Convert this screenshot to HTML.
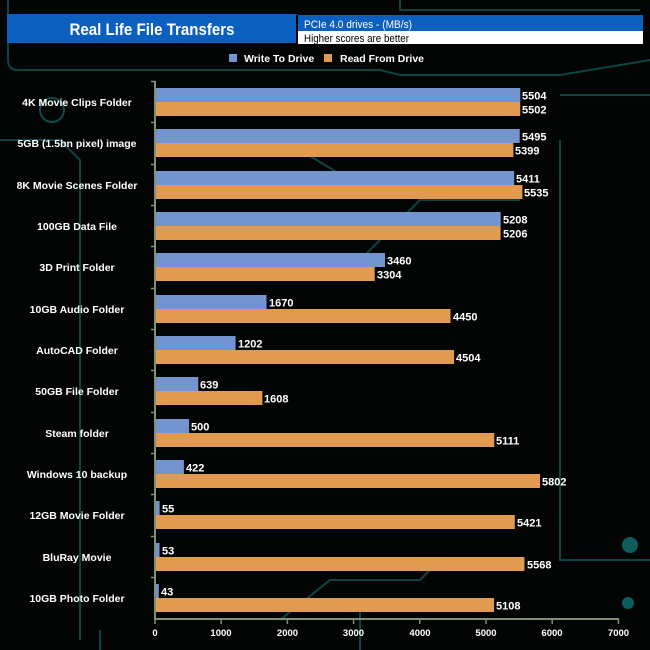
<!DOCTYPE html>
<html><head><meta charset="utf-8"><style>
body{margin:0;background:#000;}
svg{display:block;font-family:"Liberation Sans",Arial,sans-serif;}
</style></head><body>
<svg width="650" height="650" viewBox="0 0 650 650" xmlns="http://www.w3.org/2000/svg">
<rect width="650" height="650" fill="#030505"/>
<g stroke="#0f4a4a" stroke-width="2" fill="none" opacity="0.9">
<path d="M8 0 V60 Q8 70 18 70 H380 L400 75 H560 L650 60"/>
<path d="M400 0 V10 H640"/>
<path d="M0 140 H60 L80 160 V640"/>
<path d="M560 95 H650"/>
<path d="M560 140 V560 H650"/>
<path d="M280 620 L330 580 H420 L440 560"/>
<path d="M360 260 L420 200 H520"/>
<path d="M300 150 L350 180 H420"/>
<path d="M100 630 V650 M360 610 V650"/>
<path d="M420 560 H470 L480 570 H500"/>
</g>
<circle cx="630" cy="545" r="8" fill="#0f5c5c"/>
<circle cx="628" cy="603" r="6" fill="#0f5c5c"/>
<circle cx="52" cy="110" r="12" fill="none" stroke="#0f4a4a" stroke-width="2"/>
<rect x="7" y="14" width="290" height="29" fill="#0a5fbf"/>
<text x="152" y="35" text-anchor="middle" fill="#fff" font-size="17" font-weight="bold" textLength="165" lengthAdjust="spacingAndGlyphs">Real Life File Transfers</text>
<rect x="297" y="15" width="346" height="16" fill="#0a5fbf"/>
<rect x="297" y="31" width="346" height="13" fill="#fff"/>
<rect x="296" y="15" width="2" height="29" fill="#000"/>
<text x="304" y="28" fill="#fff" font-size="11" textLength="108" lengthAdjust="spacingAndGlyphs">PCIe 4.0 drives - (MB/s)</text>
<text x="304" y="42" fill="#000" font-size="11" textLength="105" lengthAdjust="spacingAndGlyphs">Higher scores are better</text>
<rect x="229" y="54" width="8" height="8" fill="#7394cf"/>
<text x="244" y="62" fill="#fff" font-size="10.5" font-weight="bold">Write To  Drive</text>
<rect x="324" y="54" width="8" height="8" fill="#e29a50"/>
<text x="340" y="62" fill="#fff" font-size="10.5" font-weight="bold">Read From  Drive</text>
<g stroke="#7f8f78" stroke-width="2">
<line x1="155" y1="81" x2="155" y2="620"/>
<line x1="154" y1="619" x2="619" y2="619"/>
</g>
<g stroke="#7f8f78" stroke-width="1.5">
<line x1="151" y1="81.5" x2="155" y2="81.5"/><line x1="151" y1="122.5" x2="155" y2="122.5"/><line x1="151" y1="164.5" x2="155" y2="164.5"/><line x1="151" y1="205.5" x2="155" y2="205.5"/><line x1="151" y1="246.5" x2="155" y2="246.5"/><line x1="151" y1="288.5" x2="155" y2="288.5"/><line x1="151" y1="329.5" x2="155" y2="329.5"/><line x1="151" y1="370.5" x2="155" y2="370.5"/><line x1="151" y1="412.5" x2="155" y2="412.5"/><line x1="151" y1="453.5" x2="155" y2="453.5"/><line x1="151" y1="494.5" x2="155" y2="494.5"/><line x1="151" y1="536.5" x2="155" y2="536.5"/><line x1="151" y1="577.5" x2="155" y2="577.5"/>
<line x1="155" y1="619" x2="155" y2="624"/><line x1="221.2" y1="619" x2="221.2" y2="624"/><line x1="287.4" y1="619" x2="287.4" y2="624"/><line x1="353.6" y1="619" x2="353.6" y2="624"/><line x1="419.8" y1="619" x2="419.8" y2="624"/><line x1="486" y1="619" x2="486" y2="624"/><line x1="552.2" y1="619" x2="552.2" y2="624"/><line x1="618.4" y1="619" x2="618.4" y2="624"/>
</g>
<g fill="#7394cf">
<rect x="156" y="88" width="364.3" height="14"/>
<rect x="156" y="129" width="363.7" height="14"/>
<rect x="156" y="171" width="358.2" height="14"/>
<rect x="156" y="212" width="344.7" height="14"/>
<rect x="156" y="253" width="229.0" height="14"/>
<rect x="156" y="295" width="110.5" height="14"/>
<rect x="156" y="336" width="79.6" height="14"/>
<rect x="156" y="377" width="42.3" height="14"/>
<rect x="156" y="419" width="33.1" height="14"/>
<rect x="156" y="460" width="27.9" height="14"/>
<rect x="156" y="501" width="3.6" height="14"/>
<rect x="156" y="543" width="3.5" height="14"/>
<rect x="156" y="584" width="2.8" height="14"/>
</g>
<g fill="#e29a50">
<rect x="156" y="102" width="364.2" height="14"/>
<rect x="156" y="143" width="357.4" height="14"/>
<rect x="156" y="185" width="366.4" height="14"/>
<rect x="156" y="226" width="344.6" height="14"/>
<rect x="156" y="267" width="218.7" height="14"/>
<rect x="156" y="309" width="294.5" height="14"/>
<rect x="156" y="350" width="298.1" height="14"/>
<rect x="156" y="391" width="106.4" height="14"/>
<rect x="156" y="433" width="338.3" height="14"/>
<rect x="156" y="474" width="384.0" height="14"/>
<rect x="156" y="515" width="358.8" height="14"/>
<rect x="156" y="557" width="368.5" height="14"/>
<rect x="156" y="598" width="338.1" height="14"/>
</g>
<g fill="#fff" font-size="11" font-weight="bold">
<text x="522" y="99.5">5504</text><text x="522" y="113.5">5502</text>
<text x="522" y="140.5">5495</text><text x="515" y="154.5">5399</text>
<text x="516" y="182.5">5411</text><text x="524" y="196.5">5535</text>
<text x="503" y="223.5">5208</text><text x="503" y="237.5">5206</text>
<text x="387" y="264.5">3460</text><text x="377" y="278.5">3304</text>
<text x="269" y="306.5">1670</text><text x="453" y="320.5">4450</text>
<text x="238" y="347.5">1202</text><text x="456" y="361.5">4504</text>
<text x="200" y="388.5">639</text><text x="264" y="402.5">1608</text>
<text x="191" y="430.5">500</text><text x="496" y="444.5">5111</text>
<text x="186" y="471.5">422</text><text x="542" y="485.5">5802</text>
<text x="162" y="512.5">55</text><text x="517" y="526.5">5421</text>
<text x="162" y="554.5">53</text><text x="527" y="568.5">5568</text>
<text x="161" y="595.5">43</text><text x="496" y="609.5">5108</text>
</g>
<g fill="#fff" font-size="10.5" font-weight="bold" text-anchor="middle">
<text x="77" y="106">4K Movie Clips Folder</text>
<text x="77" y="147">5GB (1.5bn pixel) image</text>
<text x="77" y="189">8K Movie Scenes Folder</text>
<text x="77" y="230">100GB Data File</text>
<text x="77" y="271">3D Print Folder</text>
<text x="77" y="313">10GB Audio Folder</text>
<text x="77" y="354">AutoCAD Folder</text>
<text x="77" y="395">50GB File Folder</text>
<text x="77" y="437">Steam folder</text>
<text x="77" y="478">Windows 10 backup</text>
<text x="77" y="519">12GB Movie Folder</text>
<text x="77" y="561">BluRay Movie</text>
<text x="77" y="602">10GB Photo Folder</text>
</g>
<g fill="#fff" font-size="9.5" font-weight="bold" text-anchor="middle">
<text x="155" y="636">0</text><text x="221" y="636">1000</text><text x="287.5" y="636">2000</text><text x="353.5" y="636">3000</text><text x="420" y="636">4000</text><text x="486" y="636">5000</text><text x="552" y="636">6000</text><text x="618.5" y="636">7000</text>
</g>
</svg>
</body></html>
